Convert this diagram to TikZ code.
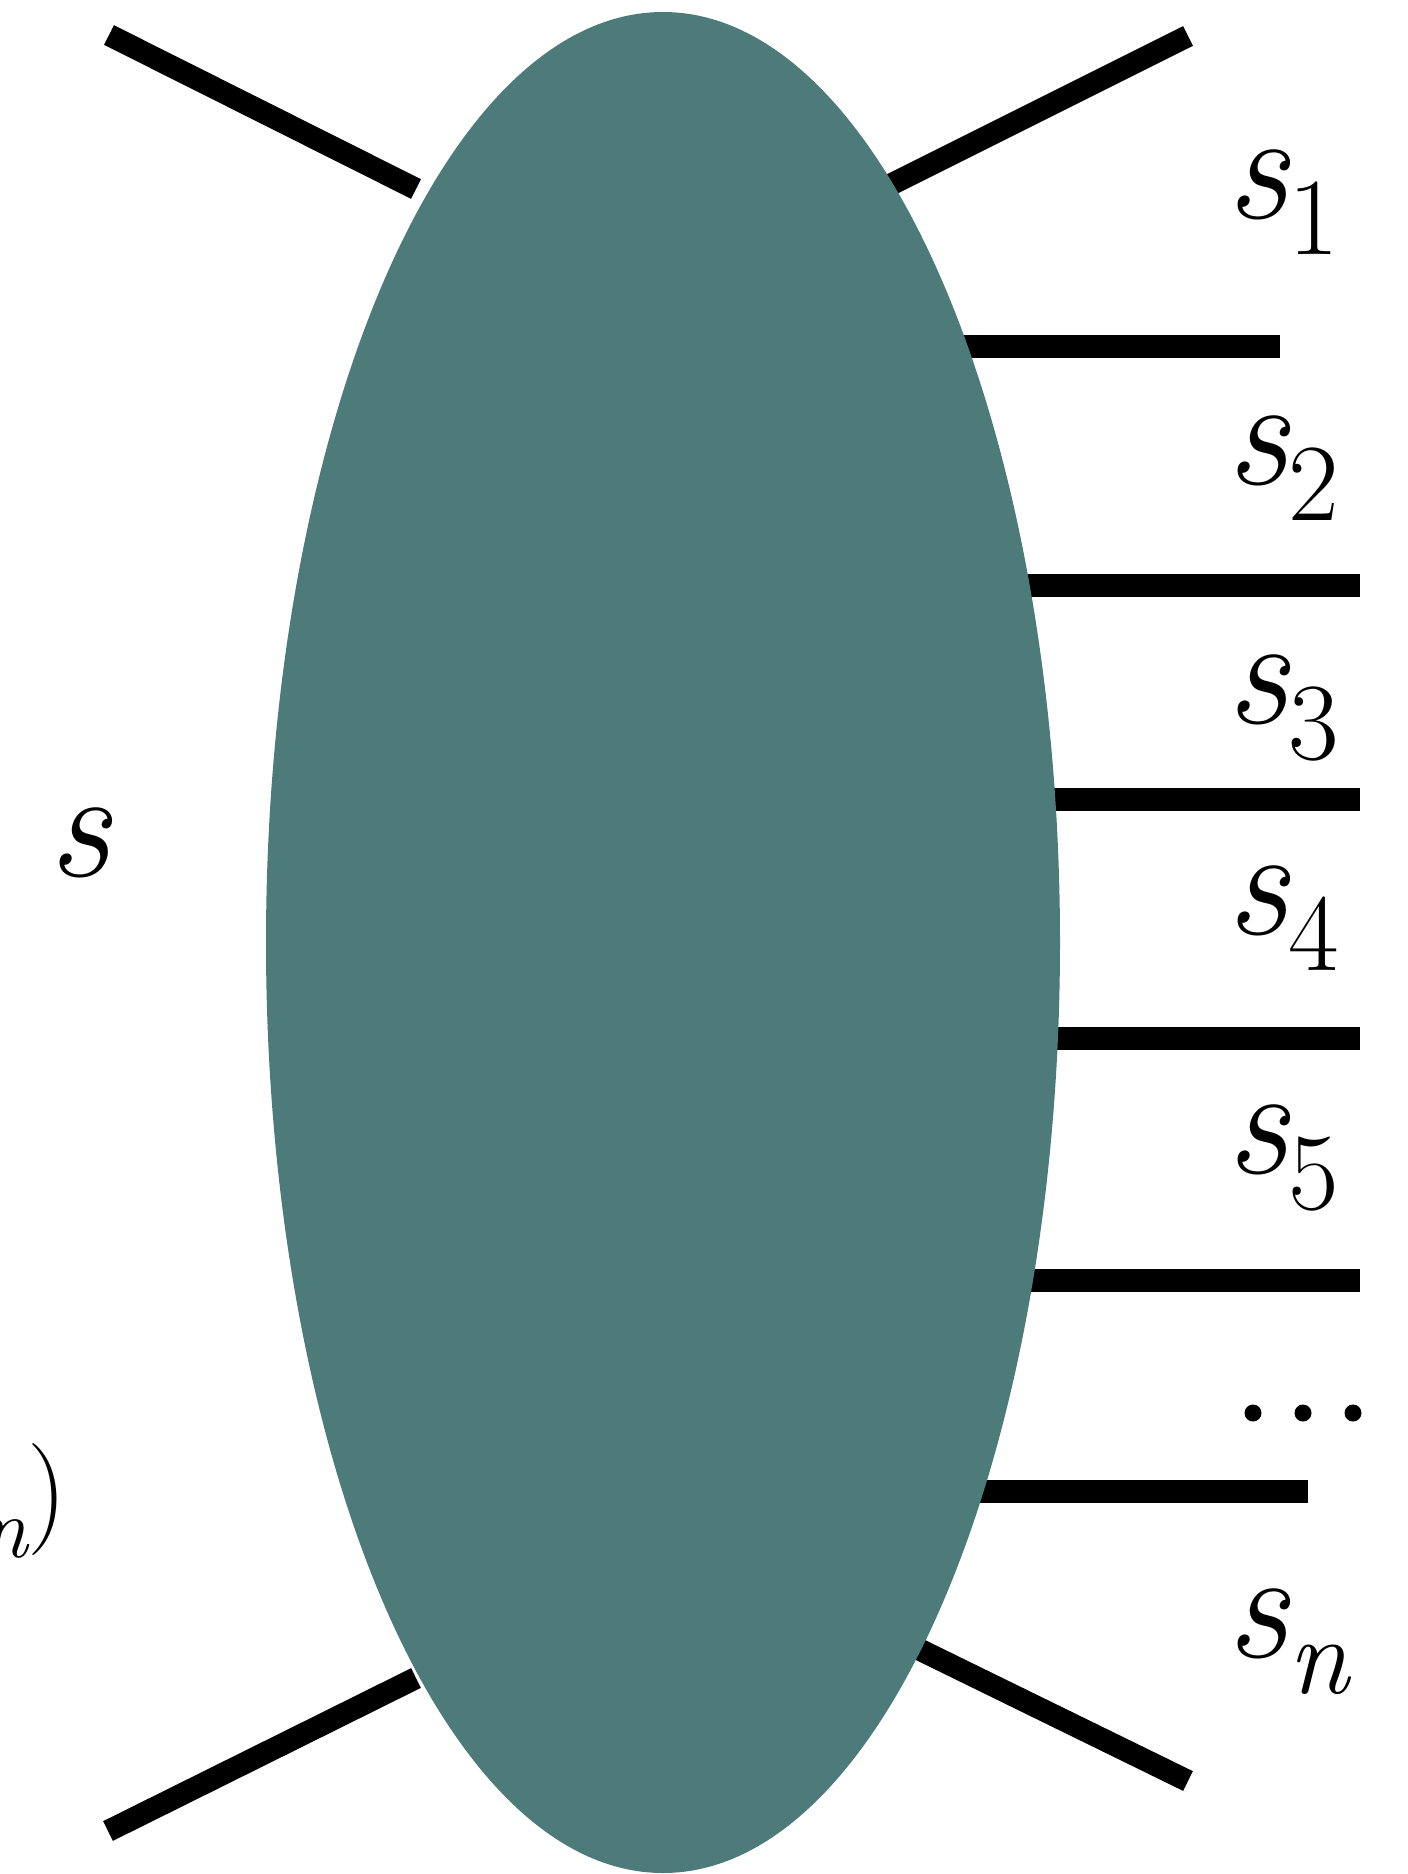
\documentclass[tikz,border=0pt]{standalone}
\usepackage{fontspec}
\usetikzlibrary{shapes.geometric}
\definecolor{blobteal}{RGB}{76,123,122}
\newcommand\slab[1]{{\itshape s}\raisebox{-18pt}{\fontsize{55}{55}\selectfont #1}}
\tikzset{
  leg/.style={line width=11pt, line cap=butt},
  bar/.style={line width=11.5pt, line cap=butt},
  lab/.style={anchor=base west, inner sep=0pt, font=\fontsize{78}{78}\selectfont},
  dotmark/.style={circle, fill=black, inner sep=0pt, minimum size=8.5pt}
}
\begin{document}
\begin{tikzpicture}[x=0.5pt,y=-0.5pt]
\useasboundingbox (0,0) rectangle (1408,1874);
\clip (0,0) rectangle (1408,1874);
% leg end points
\coordinate (tl1) at (109,35);   \coordinate (tl2) at (416,189);
\coordinate (tr1) at (1188,36);  \coordinate (tr2) at (880,190);
\coordinate (bl1) at (108,1831); \coordinate (bl2) at (416,1678);
\coordinate (br1) at (1188,1781);\coordinate (br2) at (900,1640);
\draw[leg] (tl1) -- (tl2);
\draw[leg] (tr1) -- (tr2);
\draw[leg] (bl1) -- (bl2);
\draw[leg] (br1) -- (br2);
% horizontal bars
\coordinate (h1a) at (800,346.6);  \coordinate (h1b) at (1280,346.6);
\coordinate (h2a) at (800,585.6);  \coordinate (h2b) at (1360,585.6);
\coordinate (h3a) at (800,799.6);  \coordinate (h3b) at (1360,799.6);
\coordinate (h4a) at (800,1038.6); \coordinate (h4b) at (1360,1038.6);
\coordinate (h5a) at (800,1280);   \coordinate (h5b) at (1360,1280);
\coordinate (h6a) at (800,1491.6); \coordinate (h6b) at (1308,1491.6);
\foreach \i in {1,...,6} {\draw[bar] (h\i a) -- (h\i b);}
% blob
\node[ellipse, fill=blobteal, inner sep=0pt, outer sep=0pt,
      minimum width=397pt, minimum height=930.5pt] (blob) at (663,942.5) {};
% labels
\node[lab] (s1) at (1226,218) {\slab{1}};
\node[lab] (s2) at (1226,484) {\slab{2}};
\node[lab] (s3) at (1226,723) {\slab{3}};
\node[lab] (s4) at (1226,934) {\slab{4}};
\node[lab] (s5) at (1226,1173) {\slab{5}};
\node[lab] (sn) at (1226,1657) {\slab{\itshape n}};
\node[lab] (s) at (48,876) {\itshape s};
\node[anchor=base east, inner sep=0pt, font=\fontsize{56}{56}\selectfont] (tuple) at (68,1527)
  {{\itshape s}\raisebox{-15pt}{\fontsize{43}{43}\selectfont\itshape n})};
% dots
\node[dotmark] (d1) at (1253,1413) {};
\node[dotmark] (d2) at (1303,1413) {};
\node[dotmark] (d3) at (1353,1413) {};
\end{tikzpicture}
\end{document}
